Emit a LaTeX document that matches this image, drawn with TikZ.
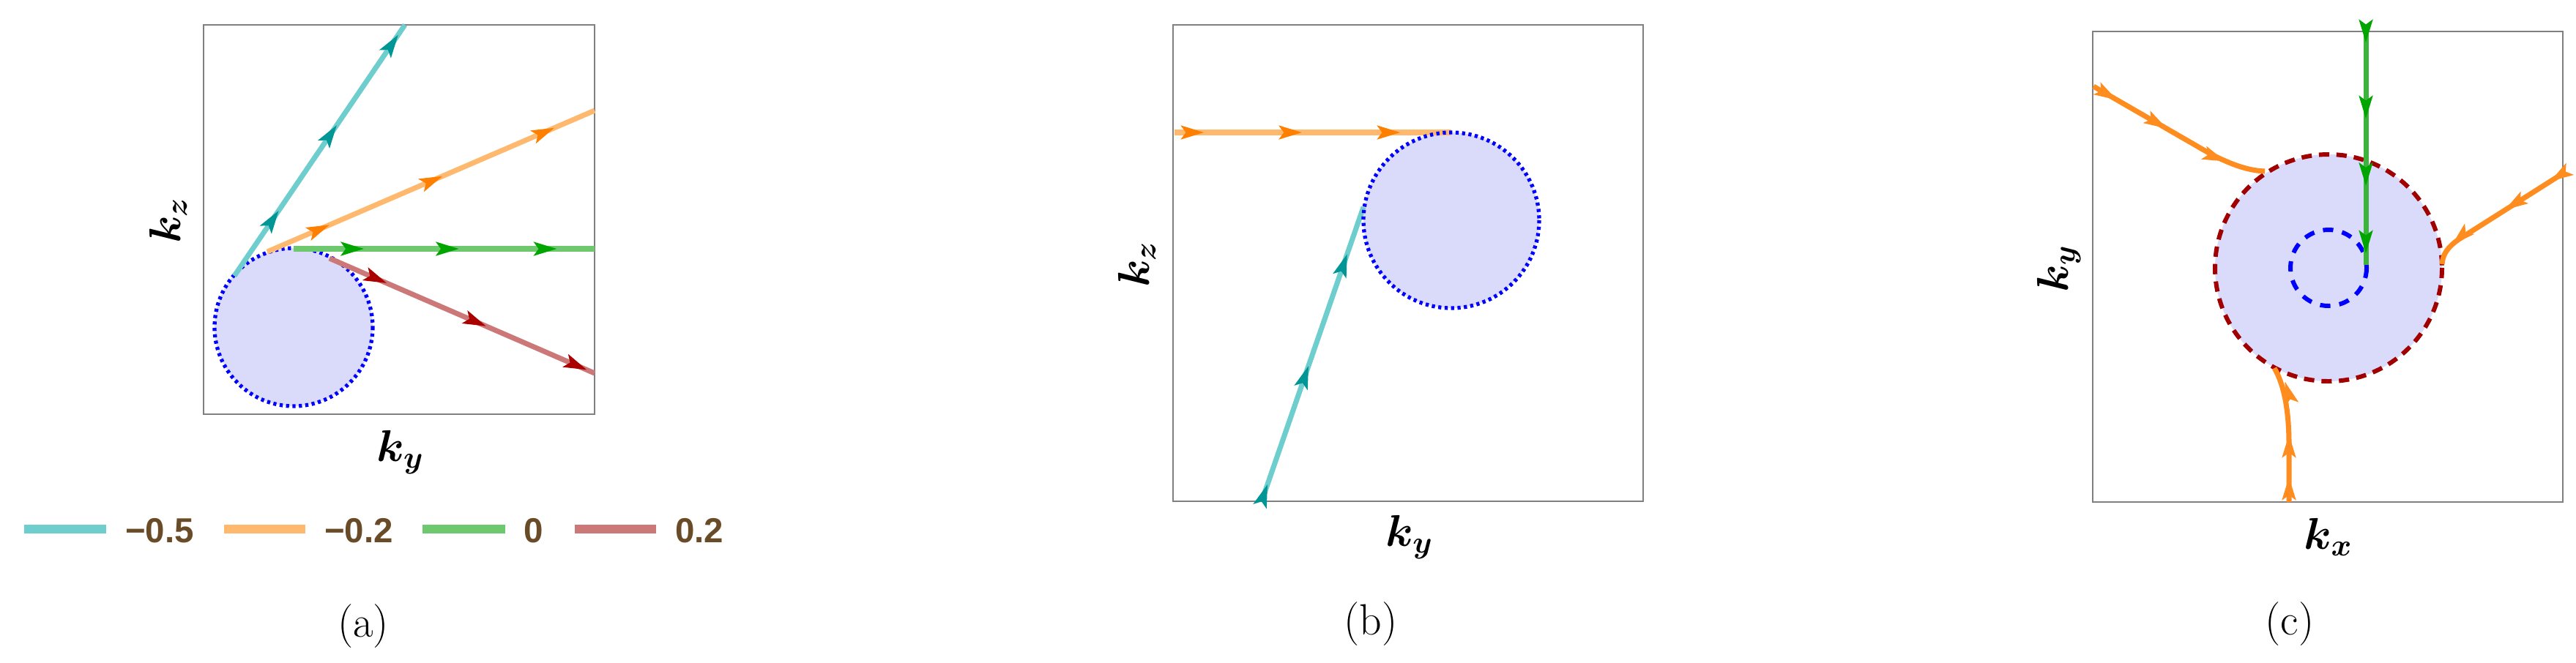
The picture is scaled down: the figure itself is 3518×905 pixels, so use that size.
\documentclass[tikz,border=0pt]{standalone}
\usepackage{bm}
\usepackage{fontspec}
\newfontfamily\legfont{Liberation Sans}
\usetikzlibrary{calc, arrows.meta}

\definecolor{lav}{RGB}{218,218,250}
\definecolor{framegray}{RGB}{128,128,128}
\definecolor{legbrown}{RGB}{105,75,40}
\definecolor{cyanL}{RGB}{110,205,205}
\definecolor{cyanD}{RGB}{0,150,150}
\definecolor{orangeL}{RGB}{255,185,110}
\definecolor{orangeD}{RGB}{255,128,0}
\definecolor{orangeC}{RGB}{255,140,30}
\definecolor{greenL}{RGB}{110,200,110}
\definecolor{greenC}{RGB}{60,180,60}
\definecolor{greenD}{RGB}{0,165,0}
\definecolor{redL}{RGB}{205,120,120}
\definecolor{redD}{RGB}{170,0,0}
\definecolor{darkred}{RGB}{160,0,0}

\begin{document}
\begin{tikzpicture}[x=0.01cm, y=-0.01cm, >={Stealth[length=9pt, width=5.5pt, inset=2pt]},
    frame/.style={draw=framegray, line width=0.8pt},
    traj/.style={line width=2pt},
    tip/.style={->, line width=0.4pt},
    dotring/.style={draw=blue, line width=1.5pt, dash pattern=on 1.2pt off 1.3pt},
    axlab/.style={font=\fontsize{17.28}{20}\selectfont},
    sublab/.style={font=\fontsize{17}{20}\selectfont},
    leglab/.style={font=\legfont\bfseries\fontsize{13.5}{16}\selectfont, text=legbrown},
    legline/.style={line width=3.4pt}]
  \useasboundingbox (0,0) rectangle (3518,905);

  % (a)
  \draw[frame] (278,34) rectangle (812,566);
  \coordinate (ca) at (401,447);
  \fill[lav] (ca) circle [radius=108];
  \draw[dotring] (ca) circle [radius=108];
  \coordinate (cyS) at (320,377); \coordinate (cyE) at (553,34);
  \coordinate (orS) at (365,344); \coordinate (orE) at (812,151);
  \coordinate (grS) at (401,340); \coordinate (grE) at (812,340);
  \coordinate (rdS) at (450,353); \coordinate (rdE) at (812,510);
  \draw[traj, cyanL] (cyS) -- (cyE);
  \draw[traj, orangeL] (orS) -- (orE);
  \draw[traj, greenL] (grS) -- (grE);
  \draw[traj, redL] (rdS) -- (rdE);
  \foreach \f in {0.26, 0.6, 0.96}
    \draw[tip, cyanD] ($(cyS)!\f-0.01!(cyE)$) -- ($(cyS)!\f!(cyE)$);
  \foreach \f in {0.19, 0.535, 0.877}
    \draw[tip, orangeD] ($(orS)!\f-0.01!(orE)$) -- ($(orS)!\f!(orE)$);
  \foreach \f in {0.233, 0.549, 0.874}
    \draw[tip, greenD] ($(grS)!\f-0.01!(grE)$) -- ($(grS)!\f!(grE)$);
  \foreach \f in {0.215, 0.59, 0.97}
    \draw[tip, redD] ($(rdS)!\f-0.01!(rdE)$) -- ($(rdS)!\f!(rdE)$);
  \node[axlab, rotate=90] (kza) at (230,301) {$\bm{k_z}$};
  \node[axlab] (kya) at (547,618) {$\bm{k_y}$};
  \node[sublab] (laba) at (496,856) {(a)};

  % legend
  \draw[legline, cyanL] (33,723) -- (145,723);
  \node[leglab] (lgA) at (218,725) {−0.5};
  \draw[legline, orangeL] (306,723) -- (417,723);
  \node[leglab] (lgB) at (490,725) {−0.2};
  \draw[legline, greenL] (577,723) -- (690,723);
  \node[leglab] (lgC) at (729,725) {0};
  \draw[legline, redL] (785,723) -- (896,723);
  \node[leglab] (lgD) at (955,725) {0.2};

  % (b)
  \draw[frame] (1602,34) rectangle (2244,685);
  \coordinate (cb) at (1982,301);
  \fill[lav] (cb) circle [radius=120];
  \coordinate (orbS) at (1604,181); \coordinate (orbE) at (1982,181);
  \coordinate (cybS) at (1723,685); \coordinate (cybE) at (1862,283);
  \draw[traj, orangeL] (orbS) -- (orbE);
  \draw[traj, cyanL] (cybS) -- (cybE);
  \draw[dotring] (cb) circle [radius=120];
  \foreach \f in {0.106, 0.46, 0.815}
    \draw[tip, orangeD] ($(orbS)!\f-0.01!(orbE)$) -- ($(orbS)!\f!(orbE)$);
  \foreach \f in {0.057, 0.46, 0.84}
    \draw[tip, cyanD] ($(cybS)!\f-0.01!(cybE)$) -- ($(cybS)!\f!(cybE)$);
  \node[axlab, rotate=90] (kzb) at (1553,361) {$\bm{k_z}$};
  \node[axlab] (kyb) at (1925,734) {$\bm{k_y}$};
  \node[sublab] (labb) at (1872,853) {(b)};

  % (c)
  \draw[frame] (2858,43) rectangle (3500,686);
  \coordinate (cc) at (3180,366);
  \fill[lav] (cc) circle [radius=155];
  \draw[darkred, line width=1.7pt, dash pattern=on 4pt off 2.8pt] (cc) circle [radius=155];
  \draw[blue, line width=1.7pt, dash pattern=on 4pt off 3.5pt] (cc) circle [radius=52];
  \coordinate (grcS) at (3231,43); \coordinate (grcE) at (3231,362);
  \draw[traj, greenC] (grcS) -- (grcE);
  \foreach \f in {0.047, 0.373, 0.66, 0.95}
    \draw[tip, greenD] ($(grcS)!\f-0.01!(grcE)$) -- ($(grcS)!\f!(grcE)$);
  \draw[traj, orangeC] (2859,118) -- (3020,211) .. controls (3052,227) and (3072,233) .. (3093,234);
  \draw[traj, orangeC] (3500,237) -- (3358,327) .. controls (3342,338) and (3336,348) .. (3335,361);
  \draw[traj, orangeC] (3126,686) -- (3126,607) .. controls (3126,560) and (3119,525) .. (3106,503);
  \draw[tip, orangeC] (2890,136) -- ++(1,0.58);
  \draw[tip, orangeC] (2958,175) -- ++(1,0.58);
  \draw[tip, orangeC] (3038,220) -- ++(1,0.4);
  \draw[tip, orangeC] (3484,247) -- ++(-1,0.63);
  \draw[tip, orangeC] (3422,286) -- ++(-1,0.63);
  \draw[tip, orangeC] (3350,333) -- ++(-1,0.9);
  \draw[tip, orangeC] (3126,653) -- ++(0,-1);
  \draw[tip, orangeC] (3126,595) -- ++(0,-1);
  \draw[tip, orangeC] (3121,523) -- ++(-0.3,-1);
  \node[axlab, rotate=90] (kyc) at (2812,367) {$\bm{k_y}$};
  \node[axlab] (kxc) at (3180,734) {$\bm{k_x}$};
  \node[sublab] (labc) at (3127,853) {(c)};
\end{tikzpicture}
\end{document}
